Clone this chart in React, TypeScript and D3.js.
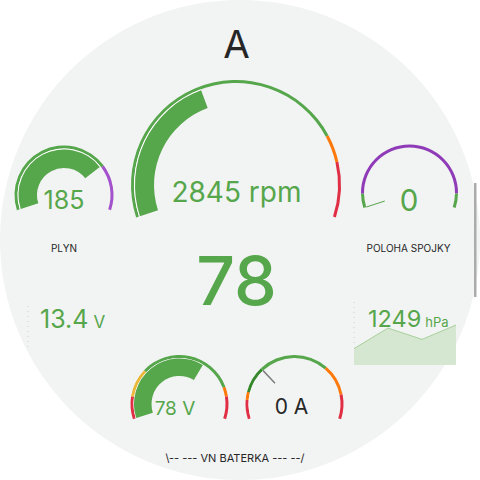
import React from "react";
import * as d3 from "d3";

const GREEN = "#56A64B";
const DKGREEN = "#37872D";
const ORANGE = "#FF780A";
const RED = "#E02F44";
const YELLOW = "#EAB839";
const PURPLE = "#A352CC";
const DKPURPLE = "#8F3BB8";

// gauge values
const rpmValue = 2845;
const rpmRange = [0, 7000];
const rpmThresholds = [
  { v: 0, c: GREEN },
  { v: 5500, c: ORANGE },
  { v: 6000, c: RED },
];

const plynValue = 185;
const plynRange = [0, 250];
const plynThresholds = [
  { v: 0, c: GREEN },
  { v: 187, c: PURPLE },
];

const spojkaValue = 0;
const spojkaRange = [0, 100];
const spojkaThresholds = [
  { v: 0, c: GREEN },
  { v: 8, c: DKPURPLE },
  { v: 92, c: GREEN },
];

const voltValue = 78;
const voltRange = [60, 88];
const voltThresholds = [
  { v: 60, c: RED },
  { v: 63.5, c: YELLOW },
  { v: 68, c: GREEN },
  { v: 83, c: ORANGE },
  { v: 84.5, c: RED },
];

const ampValue = 0;
const ampRange = [-150, 350];
const ampThresholds = [
  { v: -150, c: RED },
  { v: -97, c: ORANGE },
  { v: -75, c: DKGREEN },
  { v: 0, c: GREEN },
  { v: 195, c: ORANGE },
  { v: 282, c: RED },
];

const speedValue = 78;
const batteryVoltage = 13.4;
const pressureValue = 1249;
const pressureHistory = [1226, 1246, 1235, 1249];

const START = (-108 * Math.PI) / 180;
const END = (108 * Math.PI) / 180;

type Th = { v: number; c: string };

function Gauge(props: {
  cx: number;
  cy: number;
  rOuter: number;
  thin: number;
  barOuter: number;
  barInner: number;
  range: number[];
  thresholds: Th[];
  value: number;
  barColor: string;
}) {
  const { cx, cy, rOuter, thin, barOuter, barInner, range, thresholds, value, barColor } = props;
  const ang = d3.scaleLinear().domain(range).range([START, END]).clamp(true);
  const arc = d3.arc();
  const segs = thresholds.map((t, i) => {
    const from = t.v;
    const to = i + 1 < thresholds.length ? thresholds[i + 1].v : range[1];
    return { a0: ang(from), a1: ang(to), c: t.c };
  });
  const va = ang(value);
  const hasBar = va - START > 0.005;
  return (
    <g transform={`translate(${cx},${cy})`}>
      {segs.map((s, i) => (
        <path
          key={i}
          d={arc({ innerRadius: rOuter - thin, outerRadius: rOuter, startAngle: s.a0, endAngle: s.a1 }) || ""}
          fill={s.c}
        />
      ))}
      {hasBar ? (
        <>
          <path
            d={arc({ innerRadius: barOuter, outerRadius: rOuter - thin, startAngle: START, endAngle: va }) || ""}
            fill="#ffffff"
          />
          <path
            d={arc({ innerRadius: barInner, outerRadius: barOuter, startAngle: START, endAngle: va }) || ""}
            fill={barColor}
          />
        </>
      ) : (
        <line
          x1={Math.sin(va) * barInner}
          y1={-Math.cos(va) * barInner}
          x2={Math.sin(va) * (rOuter - thin)}
          y2={-Math.cos(va) * (rOuter - thin)}
          stroke={barColor}
          strokeWidth={1}
        />
      )}
    </g>
  );
}

function GreyLine(props: { cx: number; cy: number; r0: number; r1: number; range: number[]; value: number }) {
  const ang = d3.scaleLinear().domain(props.range).range([START, END]);
  const a = ang(props.value);
  return (
    <line
      x1={props.cx + Math.sin(a) * props.r0}
      y1={props.cy - Math.cos(a) * props.r0}
      x2={props.cx + Math.sin(a) * props.r1}
      y2={props.cy - Math.cos(a) * props.r1}
      stroke="#7a7a7a"
      strokeWidth={1.5}
    />
  );
}

export default function App() {
  const font = "Inter, 'Noto Sans', sans-serif";
  // sparkline
  const sx = d3.scaleLinear().domain([0, pressureHistory.length - 1]).range([354, 456]);
  const sy = d3.scaleLinear().domain([1210, 1250]).range([365, 324]);
  const area = d3
    .area<number>()
    .x((_, i) => sx(i))
    .y0(365)
    .y1((d) => sy(d));
  const line = d3
    .line<number>()
    .x((_, i) => sx(i))
    .y((d) => sy(d));

  return (
    <svg
      width={480}
      height={480}
      style={{ position: "absolute", left: 0, top: 0, display: "block" }}
      fontFamily={font}
    >
      <rect width={480} height={480} fill="#ffffff" />
      <circle cx={240} cy={240} r={240} fill="#f2f3f3" />

      <text x={236.5} y={58} fontSize={38.5} fill="#262626" textAnchor="middle">
        A
      </text>

      {/* main rpm gauge */}
      <Gauge
        cx={236}
        cy={185}
        rOuter={105}
        thin={3}
        barOuter={101}
        barInner={82}
        range={rpmRange}
        thresholds={rpmThresholds}
        value={rpmValue}
        barColor={GREEN}
      />
      <text x={236.5} y={202} fontSize={28} fill={GREEN} textAnchor="middle">
        {`${rpmValue} rpm`}
      </text>

      {/* PLYN */}
      <Gauge
        cx={64}
        cy={195}
        rOuter={49.5}
        thin={3}
        barOuter={45.5}
        barInner={27}
        range={plynRange}
        thresholds={plynThresholds}
        value={plynValue}
        barColor={GREEN}
      />
      <text x={64} y={209} fontSize={25} fill={GREEN} textAnchor="middle">
        {plynValue}
      </text>
      <text x={64} y={252} fontSize={10} fill="#262626" textAnchor="middle">
        PLYN
      </text>

      {/* POLOHA SPOJKY */}
      <Gauge
        cx={409.5}
        cy={193}
        rOuter={48.5}
        thin={3}
        barOuter={45}
        barInner={26}
        range={spojkaRange}
        thresholds={spojkaThresholds}
        value={spojkaValue}
        barColor={GREEN}
      />
      <text x={409} y={211} fontSize={29.5} fill={GREEN} textAnchor="middle">
        {spojkaValue}
      </text>
      <text x={408.5} y={252} fontSize={10} fill="#262626" textAnchor="middle">
        POLOHA SPOJKY
      </text>

      {/* speed */}
      <text x={236.5} y={305} fontSize={68} fill={GREEN} textAnchor="middle" fontWeight={500}>
        {speedValue}
      </text>

      {/* battery voltage */}
      <line x1={28} y1={306} x2={28} y2={348} stroke="#d0d0d0" strokeDasharray="1,4" />
      <text x={40} y={328} fill={GREEN}>
        <tspan fontSize={25}>{batteryVoltage.toFixed(1)}</tspan>
        <tspan fontSize={17} dx={5}>V</tspan>
      </text>

      {/* pressure */}
      <line x1={354} y1={302} x2={354} y2={346} stroke="#d0d0d0" strokeDasharray="1,4" />
      <path d={area(pressureHistory) || ""} fill="#d6e7d1" />
      <path d={line(pressureHistory) || ""} fill="none" stroke="#a6d09c" strokeWidth={1} />
      <text x={368} y={327} fill={GREEN}>
        <tspan fontSize={23.5}>{pressureValue}</tspan>
        <tspan fontSize={13} dx={4}>hPa</tspan>
      </text>
      <rect x={474} y={183} width={2.5} height={114} fill="#ababab" />

      {/* VN battery voltage */}
      <Gauge
        cx={179.5}
        cy={404}
        rOuter={49}
        thin={3}
        barOuter={45.5}
        barInner={28}
        range={voltRange}
        thresholds={voltThresholds}
        value={voltValue}
        barColor={GREEN}
      />
      <text x={175} y={415} fontSize={19} fill={GREEN} textAnchor="middle">
        {`${voltValue} V`}
      </text>

      {/* VN current */}
      <Gauge
        cx={294.5}
        cy={404}
        rOuter={49}
        thin={3}
        barOuter={45.5}
        barInner={28}
        range={ampRange}
        thresholds={ampThresholds}
        value={ampValue}
        barColor="none"
      />
      <GreyLine cx={294.5} cy={404} r0={28.5} r1={46} range={ampRange} value={ampValue} />
      <text x={291.5} y={414} fontSize={21} fill="#262626" textAnchor="middle">
        {`${ampValue} A`}
      </text>

      <text x={235} y={462} fontSize={11} fill="#262626" textAnchor="middle">
        {"\\-- --- VN BATERKA --- --/"}
      </text>
    </svg>
  );
}
